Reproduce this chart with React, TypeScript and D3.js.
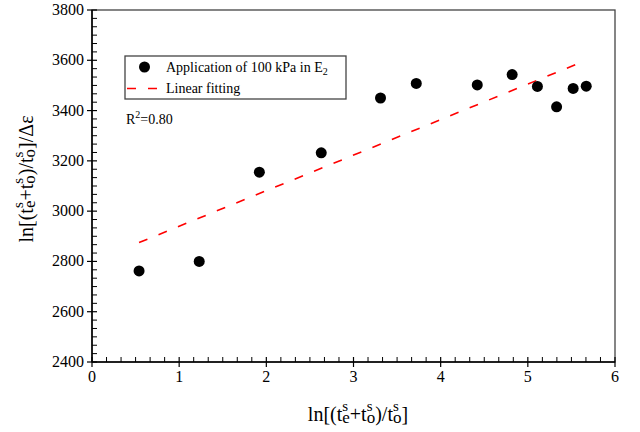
import React, { useEffect, useRef } from "react"
import * as d3 from "d3"

// measured points (x = ln[(te+to)/to], y = ln[...]/Δε)
const xValues = [0.54, 1.23, 1.92, 2.63, 3.31, 3.72, 4.42, 4.82, 5.11, 5.33, 5.52, 5.67]
const yValues = [2762, 2800, 3155, 3232, 3450, 3508, 3502, 3543, 3496, 3415, 3488, 3497]

// linear fitting line, end points
const fitX = [0.54, 5.62]
const fitY = [2875, 3593]

const xTicks = [0, 1, 2, 3, 4, 5, 6]
const yTicks = [2400, 2600, 2800, 3000, 3200, 3400, 3600, 3800]

const legendLabels = ["Application of 100 kPa in E", "Linear fitting"]
const r2Label = "0.80"

const FONT = "'Liberation Serif', 'Times New Roman', serif"

function App() {
    const ref = useRef<SVGSVGElement>(null)

    useEffect(() => {
        const svg = d3.select(ref.current)
        svg.selectAll("*").remove()

        const margin = { left: 92, right: 615, top: 10, bottom: 362 }
        const x = d3.scaleLinear().domain([0, 6]).range([margin.left, margin.right])
        const y = d3.scaleLinear().domain([2400, 3800]).range([margin.bottom, margin.top])

        // minor ticks (5 between majors)
        const xMinor = d3.range(0, 6 * 6 + 1).map(i => i / 6).filter(v => Math.abs(v - Math.round(v)) > 1e-6)
        const yMinor = d3.range(0, 7 * 6 + 1).map(i => 2400 + i * 200 / 6).filter(v => Math.abs(v / 200 - Math.round(v / 200)) > 1e-6)

        const g = svg.append("g")

        // frame
        g.append("rect")
            .attr("x", margin.left).attr("y", margin.top)
            .attr("width", margin.right - margin.left)
            .attr("height", margin.bottom - margin.top)
            .attr("fill", "none").attr("stroke", "#444").attr("stroke-width", 1.3)

        // x axis
        g.append("line")
            .attr("x1", margin.left).attr("x2", margin.right)
            .attr("y1", margin.bottom).attr("y2", margin.bottom)
            .attr("stroke", "#000").attr("stroke-width", 1.5)
        g.selectAll(".xmaj").data(xTicks).enter().append("line")
            .attr("x1", d => x(d)).attr("x2", d => x(d))
            .attr("y1", margin.bottom - 5).attr("y2", margin.bottom + 5)
            .attr("stroke", "#000").attr("stroke-width", 1.2)
        g.selectAll(".xmin").data(xMinor).enter().append("line")
            .attr("x1", d => x(d)).attr("x2", d => x(d))
            .attr("y1", margin.bottom - 5).attr("y2", margin.bottom)
            .attr("stroke", "#000").attr("stroke-width", 1)
        g.selectAll(".xlab").data(xTicks).enter().append("text")
            .attr("x", d => x(d)).attr("y", margin.bottom + 20)
            .attr("text-anchor", "middle")
            .attr("font-family", FONT).attr("font-size", 16)
            .text(d => d)

        // y axis
        g.append("line")
            .attr("x1", margin.left).attr("x2", margin.left)
            .attr("y1", margin.top).attr("y2", margin.bottom)
            .attr("stroke", "#000").attr("stroke-width", 1.5)
        g.selectAll(".ymaj").data(yTicks).enter().append("line")
            .attr("x1", margin.left - 5).attr("x2", margin.left + 5)
            .attr("y1", d => y(d)).attr("y2", d => y(d))
            .attr("stroke", "#000").attr("stroke-width", 1.2)
        g.selectAll(".ymin").data(yMinor).enter().append("line")
            .attr("x1", margin.left).attr("x2", margin.left + 5)
            .attr("y1", d => y(d)).attr("y2", d => y(d))
            .attr("stroke", "#000").attr("stroke-width", 1)
        g.selectAll(".ylab").data(yTicks).enter().append("text")
            .attr("x", margin.left - 8).attr("y", d => y(d) + 5)
            .attr("text-anchor", "end")
            .attr("font-family", FONT).attr("font-size", 16)
            .text(d => d)

        // fitting line
        const line = d3.line<number>()
            .x(d => x(fitX[d]))
            .y(d => y(fitY[d]))
        g.append("path")
            .attr("d", line([0, 1]))
            .attr("fill", "none")
            .attr("stroke", "#ff0000").attr("stroke-width", 1.6)
            .attr("stroke-dasharray", "9,12")

        // points
        g.selectAll(".pt").data(xValues).enter().append("circle")
            .attr("cx", d => x(d))
            .attr("cy", (d, i) => y(yValues[i]))
            .attr("r", 5.5)
            .attr("fill", "#000")

        // legend
        g.append("rect")
            .attr("x", 125).attr("y", 56).attr("width", 221).attr("height", 43)
            .attr("fill", "#fff").attr("stroke", "#444").attr("stroke-width", 1.3)
        g.append("circle").attr("cx", 144.5).attr("cy", 67).attr("r", 5.5).attr("fill", "#000")
        const l1 = g.append("text")
            .attr("x", 166).attr("y", 72)
            .attr("font-family", FONT).attr("font-size", 14)
            .text(legendLabels[0])
        l1.append("tspan").attr("font-size", 10).attr("dy", 3).text("2")
        g.append("line")
            .attr("x1", 127).attr("x2", 158).attr("y1", 88.5).attr("y2", 88.5)
            .attr("stroke", "#ff0000").attr("stroke-width", 1.6)
            .attr("stroke-dasharray", "9,12")
        g.append("text")
            .attr("x", 166).attr("y", 93)
            .attr("font-family", FONT).attr("font-size", 14)
            .text(legendLabels[1])

        // R2
        const r2 = g.append("text")
            .attr("x", 126).attr("y", 124)
            .attr("font-family", FONT).attr("font-size", 14)
            .text("R")
        r2.append("tspan").attr("font-size", 10).attr("dy", -6).text("2")
        r2.append("tspan").attr("dy", 6).text("=" + r2Label)

        // axis title builder: ln[(t^s_e+t^s_o)/t^s_o]
        const SUP = 15, SUB = 17
        const supW = 0.389 * SUP
        const stack = (sel: any, sub: string) => {
            sel.append("tspan").attr("font-size", SUP).attr("dy", -10).text("s")
            sel.append("tspan").attr("font-size", SUB).attr("dx", -supW).attr("dy", 12).text(sub)
        }
        const title = (sel: any) => {
            sel.append("tspan").text("ln[(t")
            stack(sel, "e")
            sel.append("tspan").attr("dy", -2).text("+t")
            stack(sel, "o")
            sel.append("tspan").attr("dy", -2).text(")/t")
            stack(sel, "o")
        }

        const xt = g.append("text")
            .attr("x", 358).attr("y", 421)
            .attr("text-anchor", "middle")
            .attr("font-family", FONT).attr("font-size", 20)
        title(xt)
        xt.append("tspan").attr("dy", -2).text("]")

        const yt = g.append("text")
            .attr("transform", "translate(33,179) rotate(-90)")
            .attr("text-anchor", "middle")
            .attr("font-family", FONT).attr("font-size", 20)
        title(yt)
        yt.append("tspan").attr("dy", -2).text("]/Δε")
    }, [])

    return (
        <svg ref={ref} width={640} height={432}
            style={{ position: "absolute", left: 0, top: 0, background: "#fff" }} />
    )
}

export default App
